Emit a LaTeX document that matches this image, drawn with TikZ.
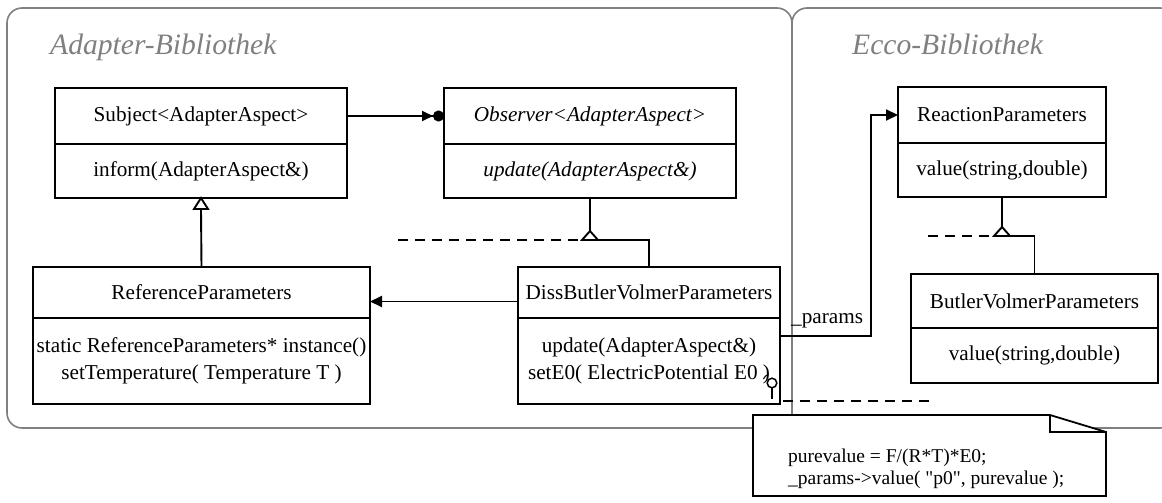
\documentclass[tikz,border=0pt]{standalone}
\usepackage{fontspec}
\setmainfont{Liberation Serif}
\newfontfamily\codefont[Ligatures=TeXOff]{Liberation Serif}
\usetikzlibrary{arrows.meta}
\definecolor{pkggray}{HTML}{808080}
\tikzset{
  pkg/.style={draw=pkggray, line width=1.6pt, rounded corners=15pt},
  pkgtitle/.style={text=pkggray, font=\fontsize{29.6}{32}\selectfont\itshape, anchor=base west, inner sep=0pt},
  cls/.style={draw, line width=1.9pt, inner sep=0pt, outer sep=0pt,
    font=\fontsize{21.2}{27}\selectfont, align=center},
  conn/.style={line width=1.9pt},
  filledtip/.style={-{Triangle[length=12pt,width=11pt]}},
  gentri/.style={line width=1.9pt, fill=white, line join=miter},
  dashline/.style={line width=1.7pt, dash pattern=on 10pt off 7pt},
  notetext/.style={font=\codefont\fontsize{19.5}{22}\selectfont, align=left, anchor=west, inner sep=0pt}
}
\begin{document}
\begin{tikzpicture}[x=1pt,y=-1pt]
\useasboundingbox (0,0) rectangle (1162,503);

% package frames
\draw[pkg] (7,8) rectangle (792,428);
\draw[pkg] (792,8) rectangle (1175,428);
\node[pkgtitle] (adtitle) at (50,55) {Adapter-Bibliothek};
\node[pkgtitle] (ectitle) at (852,55) {Ecco-Bibliothek};

% classes of the adapter library
\node[cls, anchor=north west, minimum width=292pt, minimum height=56pt] (subjn) at (55,88) {Subject<AdapterAspect>};
\node[cls, anchor=north, minimum width=292pt, minimum height=54pt] (subjm) at (subjn.south) {inform(AdapterAspect\&)};

\node[cls, anchor=north west, minimum width=292pt, minimum height=56pt, font=\fontsize{21.2}{27}\selectfont\itshape] (obsn) at (444,88) {Observer<AdapterAspect>};
\node[cls, anchor=north, minimum width=292pt, minimum height=54pt, font=\fontsize{21.2}{27}\selectfont\itshape] (obsm) at (obsn.south) {update(AdapterAspect\&)};

\node[cls, anchor=north west, minimum width=337pt, minimum height=51pt] (refn) at (33,267) {ReferenceParameters};
\node[cls, anchor=north, minimum width=337pt, minimum height=86pt] (refm) at (refn.south) {static ReferenceParameters* instance()\\setTemperature( Temperature T )};

\node[cls, anchor=north west, minimum width=262pt, minimum height=51pt] (dissn) at (518,267) {DissButlerVolmerParameters};
\node[cls, anchor=north, minimum width=262pt, minimum height=86pt] (dissm) at (dissn.south) {update(AdapterAspect\&)\\setE0( ElectricPotential E0 )};

% classes of the Ecco library
\node[cls, anchor=north west, minimum width=208pt, minimum height=56pt] (reactn) at (898,87) {ReactionParameters};
\node[cls, anchor=north, minimum width=208pt, minimum height=54pt] (reactm) at (reactn.south) {value(string,double)};

\node[cls, anchor=north west, minimum width=247pt, minimum height=54pt] (bvn) at (911,274) {ButlerVolmerParameters};
\node[cls, anchor=north, minimum width=247pt, minimum height=55pt] (bvm) at (bvn.south) {value(string,double)};

% Subject notifies Observer
\draw[conn, -{Triangle[length=11pt,width=10pt] Circle[length=11pt]}] (subjn.east) -- (obsn.west);

% ReferenceParameters derives from Subject
\coordinate (sgen) at ([yshift=-11pt]subjm.south);
\draw[conn] (refn.north) -- (sgen);
\draw[gentri] (subjm.south) -- ++(-7,11) -- ++(14,0) -- cycle;

% DissButlerVolmerParameters uses ReferenceParameters
\draw[conn, filledtip] ([yshift=-9pt]dissn.west) -- ([yshift=-9pt]refn.east);

% DissButlerVolmerParameters implements Observer
\coordinate (ojoin) at (obsm.south |- 0,240);
\coordinate (odashA) at (398,240);
\coordinate (odashB) at (637,240);
\draw[dashline] (odashA) -- (odashB);
\draw[conn] (dissn.north) |- (ojoin);
\draw[conn] ([yshift=9pt]ojoin) -- (obsm.south);
\draw[gentri] (ojoin) -- ++(-8,0) -- ++(8,-9) -- ++(8,9) -- cycle;

% ButlerVolmerParameters derives from ReactionParameters
\coordinate (ejoin) at (reactm.south |- 0,236);
\coordinate (edashA) at (928,236);
\coordinate (edashB) at (994,236);
\draw[dashline] (edashA) -- (edashB);
\draw[conn] (bvn.north) |- (ejoin);
\draw[conn] ([yshift=9pt]ejoin) -- (reactm.south);
\draw[gentri] (ejoin) -- ++(-8,0) -- ++(8,-9) -- ++(8,9) -- cycle;

% association _params
\coordinate (pbend) at (871,0);
\draw[conn, filledtip] ([yshift=-18pt]dissm.north east) -| (pbend |- reactn.west) -- (reactn.west);
\node[font=\fontsize{21.2}{27}\selectfont, anchor=base west, inner sep=0pt] (plabel) at (791,323) {\_params};

% required interface at setE0
\coordinate (ball) at (772,383);
\draw[line width=1.5pt] (ball) circle (4.8pt);
\draw[line width=1.5pt] ([yshift=-4.8pt]ball) -- ++(0,11);
\draw[line width=1.1pt] ([shift={(155:9.5pt)}]ball) arc[start angle=155, end angle=112, radius=9.5pt];

% note with the code of setE0
\coordinate (nstart) at (783,401);
\coordinate (nend) at (930,401);
\draw[dashline] (nstart) -- (nend);
\node[anchor=north west, minimum width=353pt, minimum height=81pt, inner sep=0pt, outer sep=0pt] (note) at (753,415) {};
\draw[line width=1.8pt, fill=white, line join=miter] (note.north west) -- ([xshift=-56pt]note.north east) -- ([yshift=-17pt]note.north east) -- (note.south east) -- (note.south west) -- cycle;
\draw[line width=1.8pt] ([xshift=-56pt]note.north east) |- ([yshift=-17pt]note.north east);
\node[notetext] (code) at (788,469) {purevalue = F/(R*T)*E0;\\\_params->value( "p0", purevalue );};
\end{tikzpicture}
\end{document}
